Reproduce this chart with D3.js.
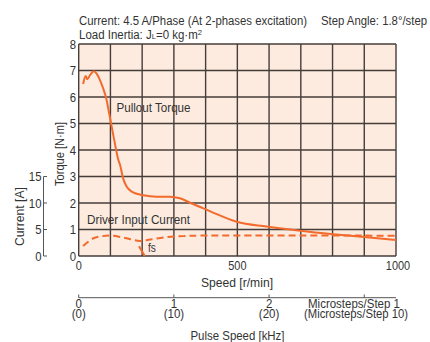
<!DOCTYPE html>
<html><head><meta charset="utf-8">
<script src="https://cdn.jsdelivr.net/npm/d3@7"></script>
<style>
body{margin:0;background:#fff;}
svg text{font-family:"Liberation Sans",Arial,sans-serif;fill:#333;font-size:12px;}
</style></head><body>
<svg id="c" width="430" height="342"></svg>
<script>
// Pullout torque [N·m] vs speed [r/min]
const torqueSpeed = [14,22,27,36,48,57,67,77,88,96,104,114,125,130,140,151,167,204,246,288,319,351,393,435,498,592,697,802,908,1000];
const torqueVals  = [6.49,6.79,6.67,6.83,6.97,6.87,6.64,6.33,5.89,5.38,4.88,4.25,3.62,3.45,2.93,2.62,2.43,2.29,2.24,2.24,2.18,2.01,1.80,1.58,1.29,1.11,0.95,0.82,0.71,0.60];
// Driver input current [A] vs speed
const currentSpeed = [14,45,75,100,130,160,193,225,277,330,382,500,700,900,1000];
const currentVals  = [1.9,3.3,3.75,3.85,3.6,3.2,2.85,3.1,3.55,3.75,3.85,3.85,3.85,3.85,3.8];
// fs (max starting frequency) marker line, in torque units
const fsSpeed = [190,208];
const fsTorque = [0.37,0];
const torqueTicks = [0,1,2,3,4,5,6,7,8];
const currentTicks = [0,5,10,15];
const speedTicks = [0,500,1000];
const pulseTicks = [0,1,2,3];
const pulseLabels = ["0","1","2",""];
const pulseLabels10 = ["(0)","(10)","(20)",""];

const svg = d3.select("#c");
const X0=78.7, X1=396, Y0=256, Y1=44;
const x = d3.scaleLinear().domain([0,1000]).range([X0,X1]);
const y = d3.scaleLinear().domain([0,8]).range([Y0,Y1]);
const yc = d3.scaleLinear().domain([0,40]).range([Y0,Y1]); // current: 5 A per torque unit
const xp = d3.scaleLinear().domain([0,1000/60*200/1000]).range([X0,X1]);
const orange = "#F26A2C", grid = "#463c3a";

function squeeze(sel, target, k){
  sel.each(function(){
    const w = this.getComputedTextLength();
    if(w>0) d3.select(this).attr("textLength", target || w*(k||0.84)).attr("lengthAdjust","spacingAndGlyphs");
  });
  return sel;
}

svg.append("rect").attr("x",X0).attr("y",Y1).attr("width",X1-X0).attr("height",Y0-Y1).attr("fill","#FDEBDF");
// grid
svg.append("g").selectAll("line").data(d3.range(0,1001,100)).join("line")
  .attr("x1",d=>x(d)).attr("x2",d=>x(d)).attr("y1",Y1).attr("y2",Y0)
  .attr("stroke",grid).attr("stroke-width",1.4);
svg.append("g").selectAll("line").data(torqueTicks).join("line")
  .attr("x1",X0).attr("x2",X1).attr("y1",d=>y(d)).attr("y2",d=>y(d))
  .attr("stroke",grid).attr("stroke-width",1.4);

// torque axis labels
squeeze(svg.append("g").selectAll("text").data(torqueTicks).join("text")
  .attr("x",76).attr("y",d=>y(d)+4.7).attr("text-anchor","end").style("font-size","13.5px").text(d=>d));
squeeze(svg.append("text").attr("transform","translate(64,186) rotate(-90)").style("font-size","12.5px").text("Torque [N·m]"), 64);

// current axis
const ca = svg.append("g");
ca.append("line").attr("x1",43.5).attr("x2",43.5).attr("y1",yc(15)).attr("y2",yc(0)).attr("stroke","#555").attr("stroke-width",1);
ca.selectAll("line.t").data(currentTicks).join("line").attr("class","t")
  .attr("x1",43.5).attr("x2",47).attr("y1",d=>yc(d)).attr("y2",d=>yc(d)).attr("stroke","#555").attr("stroke-width",1);
squeeze(ca.selectAll("text").data(currentTicks).join("text")
  .attr("x",41.5).attr("y",d=>yc(d)+4.7).attr("text-anchor","end").style("font-size","13.5px").text(d=>d));
squeeze(svg.append("text").attr("transform","translate(23.5,246) rotate(-90)").style("font-size","12.5px").text("Current [A]"), 59);

// speed axis labels
squeeze(svg.append("g").selectAll("text").data(speedTicks).join("text")
  .attr("x",d=>x(d)+(d===1000?2:0)).attr("y",269.5).attr("text-anchor","middle").style("font-size","13px").text(d=>d));
squeeze(svg.append("text").attr("x",237).attr("y",286.5).attr("text-anchor","middle").text("Speed [r/min]"), 72);

// pulse axis
const pa = svg.append("g");
pa.append("line").attr("x1",X0).attr("x2",X1).attr("y1",297.7).attr("y2",297.7).attr("stroke","#555").attr("stroke-width",1);
pa.selectAll("line.t").data(pulseTicks).join("line").attr("class","t")
  .attr("x1",d=>xp(d)).attr("x2",d=>xp(d)).attr("y1",294.5).attr("y2",297.7).attr("stroke","#555");
squeeze(pa.selectAll("text.a").data(pulseTicks).join("text").attr("class","a")
  .attr("x",d=>xp(d)).attr("y",307.5).attr("text-anchor","middle").style("font-size","12.5px").text((d,i)=>pulseLabels[i]), null, 0.92);
squeeze(pa.selectAll("text.b").data(pulseTicks).join("text").attr("class","b")
  .attr("x",d=>xp(d)).attr("y",318).attr("text-anchor","middle").style("font-size","12.5px").text((d,i)=>pulseLabels10[i]), null, 0.92);
squeeze(svg.append("text").attr("x",354).attr("y",307.5).attr("text-anchor","middle").style("font-size","12px").text("Microsteps/Step 1"), 92);
squeeze(svg.append("text").attr("x",356).attr("y",318).attr("text-anchor","middle").style("font-size","12px").text("(Microsteps/Step 10)"), 104);
squeeze(svg.append("text").attr("x",237.5).attr("y",339.5).attr("text-anchor","middle").text("Pulse Speed [kHz]"), 94);

// header
squeeze(svg.append("text").attr("x",79).attr("y",25).text("Current: 4.5 A/Phase (At 2-phases excitation)"), 228);
squeeze(svg.append("text").attr("x",427).attr("y",25).attr("text-anchor","end").text("Step Angle: 1.8°/step"), 106);
const li = svg.append("text").attr("x",79).attr("y",38.5);
li.append("tspan").text("Load Inertia: J");
li.append("tspan").style("font-size","8px").text("L");
li.append("tspan").text("=0 kg·m");
li.append("tspan").attr("dy",-4).style("font-size","8px").text("2");
squeeze(li, 123);

// curves
const line = d3.line().curve(d3.curveMonotoneX);
svg.append("path").attr("d", line(torqueSpeed.map((s,i)=>[x(s),y(torqueVals[i])])))
  .attr("fill","none").attr("stroke",orange).attr("stroke-width",2);
svg.append("path").attr("d", d3.line().curve(d3.curveCatmullRom)(currentSpeed.map((s,i)=>[x(s),yc(currentVals[i])])))
  .attr("fill","none").attr("stroke",orange).attr("stroke-width",2).attr("stroke-dasharray","7,4");
svg.append("path").attr("d", d3.line()(fsSpeed.map((s,i)=>[x(s),y(fsTorque[i])])))
  .attr("fill","none").attr("stroke",orange).attr("stroke-width",2);

// curve labels
squeeze(svg.append("text").attr("x",116.5).attr("y",112).text("Pullout Torque"), 74);
squeeze(svg.append("text").attr("x",87).attr("y",224).text("Driver Input Current"), 103);
squeeze(svg.append("text").attr("x",148).attr("y",252).text("fs"));
</script></body></html>
